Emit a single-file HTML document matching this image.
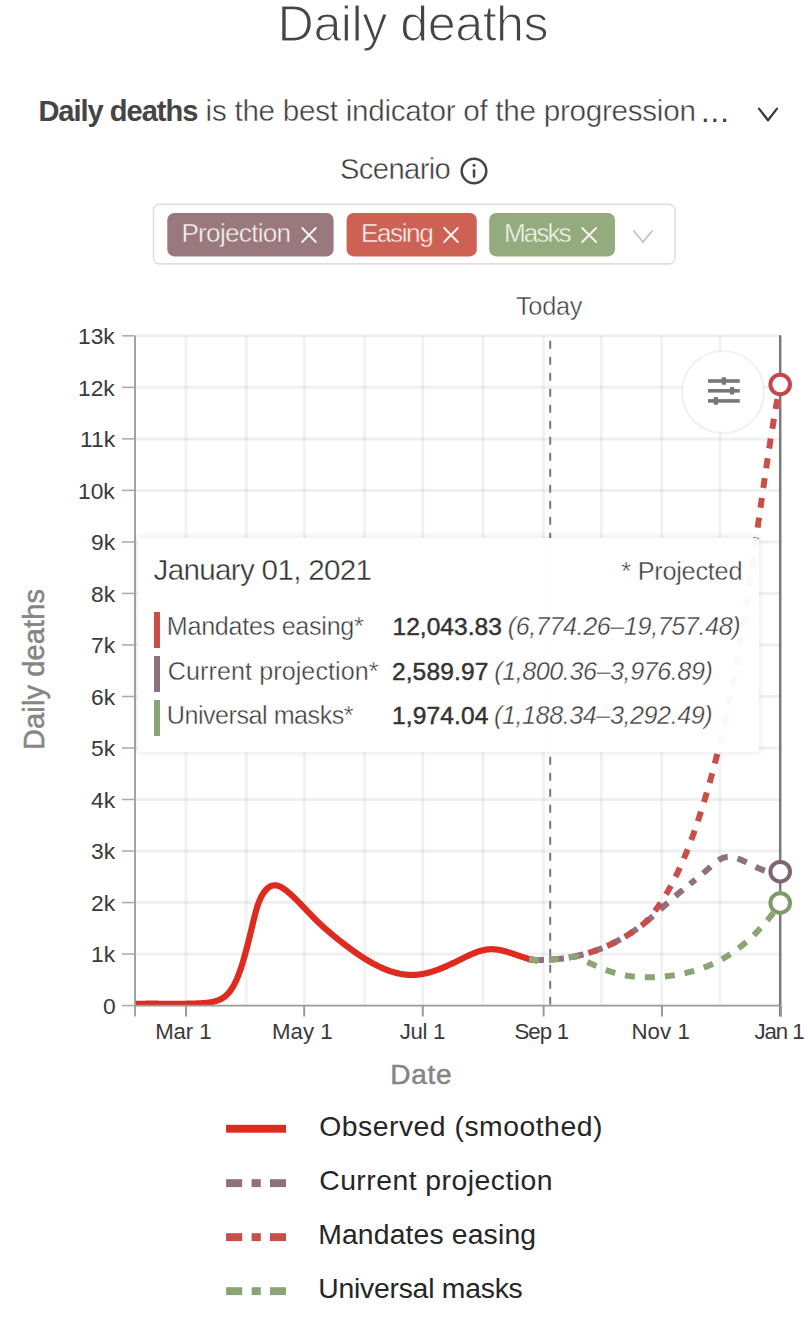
<!DOCTYPE html>
<html><head><meta charset="utf-8"><style>
html,body{margin:0;padding:0;background:#fff;}
body{width:808px;height:1322px;position:relative;overflow:hidden;font-family:"Liberation Sans",sans-serif;}
.t{position:absolute;white-space:pre;line-height:1;}
svg{position:absolute;left:0;top:0;}
</style></head><body>
<svg width="808" height="1322" viewBox="0 0 808 1322">
<polyline points="759,108.6 768,120.3 777,108.6" fill="none" stroke="#3c3c3c" stroke-width="2.3" stroke-linecap="round" stroke-linejoin="round"/>
<circle cx="474" cy="171" r="12.3" fill="none" stroke="#454545" stroke-width="2.5"/>
<rect x="472.8" y="169.3" width="2.5" height="8.5" rx="1" fill="#454545"/>
<circle cx="474.05" cy="165.2" r="1.5" fill="#454545"/>
<rect x="153.5" y="205.4" width="521.5" height="59.5" rx="6" fill="rgba(0,0,0,0.06)"/>
<rect x="153.5" y="204.2" width="521.5" height="59.5" rx="6" fill="#fff" stroke="#dedede" stroke-width="1.5"/>
<rect x="167.3" y="213" width="166.3" height="43.4" rx="7" fill="#9a797e"/>
<rect x="346.6" y="213" width="130.2" height="43.4" rx="7" fill="#cd6254"/>
<rect x="489.2" y="213" width="125.8" height="43.4" rx="7" fill="#94ab7d"/>
<path d="M302.2,228 L315.8,242 M315.8,228 L302.2,242" stroke="#fdf8f4" stroke-width="1.8" stroke-linecap="round" fill="none"/>
<path d="M444.2,228 L457.8,242 M457.8,228 L444.2,242" stroke="#fdf8f4" stroke-width="1.8" stroke-linecap="round" fill="none"/>
<path d="M582.2,228 L596.0999999999999,242 M596.0999999999999,228 L582.2,242" stroke="#fdf8f4" stroke-width="1.8" stroke-linecap="round" fill="none"/>
<polyline points="633.5,230.5 643,242 652.5,230.5" fill="none" stroke="#c4c4c4" stroke-width="1.8"/>
<line x1="135" y1="954.08" x2="780.2" y2="954.08" stroke="rgba(0,0,0,0.06)" stroke-width="3"/>
<line x1="135" y1="902.56" x2="780.2" y2="902.56" stroke="rgba(0,0,0,0.06)" stroke-width="3"/>
<line x1="135" y1="851.04" x2="780.2" y2="851.04" stroke="rgba(0,0,0,0.06)" stroke-width="3"/>
<line x1="135" y1="799.52" x2="780.2" y2="799.52" stroke="rgba(0,0,0,0.06)" stroke-width="3"/>
<line x1="135" y1="748.00" x2="780.2" y2="748.00" stroke="rgba(0,0,0,0.06)" stroke-width="3"/>
<line x1="135" y1="696.48" x2="780.2" y2="696.48" stroke="rgba(0,0,0,0.06)" stroke-width="3"/>
<line x1="135" y1="644.96" x2="780.2" y2="644.96" stroke="rgba(0,0,0,0.06)" stroke-width="3"/>
<line x1="135" y1="593.44" x2="780.2" y2="593.44" stroke="rgba(0,0,0,0.06)" stroke-width="3"/>
<line x1="135" y1="541.92" x2="780.2" y2="541.92" stroke="rgba(0,0,0,0.06)" stroke-width="3"/>
<line x1="135" y1="490.40" x2="780.2" y2="490.40" stroke="rgba(0,0,0,0.06)" stroke-width="3"/>
<line x1="135" y1="438.88" x2="780.2" y2="438.88" stroke="rgba(0,0,0,0.06)" stroke-width="3"/>
<line x1="135" y1="387.36" x2="780.2" y2="387.36" stroke="rgba(0,0,0,0.06)" stroke-width="3"/>
<line x1="135" y1="335.84" x2="780.2" y2="335.84" stroke="rgba(0,0,0,0.06)" stroke-width="3"/>
<line x1="186" y1="335.84" x2="186" y2="1005.60" stroke="rgba(0,0,0,0.05)" stroke-width="3"/>
<line x1="246.2" y1="335.84" x2="246.2" y2="1005.60" stroke="rgba(0,0,0,0.05)" stroke-width="3"/>
<line x1="304.4" y1="335.84" x2="304.4" y2="1005.60" stroke="rgba(0,0,0,0.05)" stroke-width="3"/>
<line x1="364.6" y1="335.84" x2="364.6" y2="1005.60" stroke="rgba(0,0,0,0.05)" stroke-width="3"/>
<line x1="422.8" y1="335.84" x2="422.8" y2="1005.60" stroke="rgba(0,0,0,0.05)" stroke-width="3"/>
<line x1="483" y1="335.84" x2="483" y2="1005.60" stroke="rgba(0,0,0,0.05)" stroke-width="3"/>
<line x1="543.4" y1="335.84" x2="543.4" y2="1005.60" stroke="rgba(0,0,0,0.05)" stroke-width="3"/>
<line x1="601.4" y1="335.84" x2="601.4" y2="1005.60" stroke="rgba(0,0,0,0.05)" stroke-width="3"/>
<line x1="661.6" y1="335.84" x2="661.6" y2="1005.60" stroke="rgba(0,0,0,0.05)" stroke-width="3"/>
<line x1="719.9" y1="335.84" x2="719.9" y2="1005.60" stroke="rgba(0,0,0,0.05)" stroke-width="3"/>
<line x1="780.2" y1="335.34" x2="780.2" y2="1016.5" stroke="#7a7a7a" stroke-width="2.5"/>
<clipPath id="plot"><rect x="135" y="331.84" width="651.20" height="673.76"/></clipPath>
<path clip-path="url(#plot)" d="M135.00,1003.91 L136.00,1003.89 L137.00,1003.86 L138.00,1003.84 L139.00,1003.82 L140.00,1003.80 L141.00,1003.78 L142.00,1003.77 L143.00,1003.75 L144.00,1003.74 L145.00,1003.73 L146.00,1003.72 L147.00,1003.72 L148.00,1003.71 L149.00,1003.71 L150.00,1003.71 L151.00,1003.70 L152.00,1003.70 L153.00,1003.70 L154.00,1003.71 L155.00,1003.71 L156.00,1003.71 L157.00,1003.72 L158.00,1003.72 L159.00,1003.73 L160.00,1003.73 L161.00,1003.74 L162.00,1003.74 L163.00,1003.75 L164.00,1003.75 L165.00,1003.76 L166.00,1003.77 L167.00,1003.77 L168.00,1003.78 L169.00,1003.78 L170.00,1003.79 L171.00,1003.79 L172.00,1003.80 L173.00,1003.80 L174.00,1003.80 L175.00,1003.80 L176.00,1003.80 L177.00,1003.80 L178.00,1003.80 L179.00,1003.80 L180.00,1003.79 L181.00,1003.79 L182.00,1003.78 L183.00,1003.77 L184.00,1003.76 L185.00,1003.75 L186.00,1003.74 L187.00,1003.72 L188.00,1003.70 L189.00,1003.68 L190.00,1003.66 L191.00,1003.64 L192.00,1003.61 L193.00,1003.58 L194.00,1003.55 L195.00,1003.52 L196.00,1003.48 L197.00,1003.44 L198.00,1003.40 L199.00,1003.36 L200.00,1003.31 L201.00,1003.26 L202.00,1003.20 L203.00,1003.14 L204.00,1003.07 L205.00,1002.99 L206.00,1002.90 L207.00,1002.80 L208.00,1002.68 L209.00,1002.55 L210.00,1002.39 L211.00,1002.22 L212.00,1002.03 L213.00,1001.81 L214.00,1001.57 L215.00,1001.30 L216.00,1001.01 L217.00,1000.68 L218.00,1000.33 L219.00,999.94 L220.00,999.50 L221.00,999.02 L222.00,998.47 L223.00,997.86 L224.00,997.18 L225.00,996.43 L226.00,995.58 L227.00,994.65 L228.00,993.61 L229.00,992.47 L230.00,991.22 L231.00,989.84 L232.00,988.34 L233.00,986.70 L234.00,984.93 L235.00,983.00 L236.00,980.92 L237.00,978.67 L238.00,976.26 L239.00,973.67 L240.00,970.90 L241.00,967.95 L242.00,964.83 L243.00,961.55 L244.00,958.12 L245.00,954.57 L246.00,950.89 L247.00,947.10 L248.00,943.22 L249.00,939.25 L250.00,935.20 L251.00,931.10 L252.00,926.94 L253.00,922.77 L254.00,918.65 L255.00,914.68 L256.00,910.94 L257.00,907.51 L258.00,904.46 L259.00,901.78 L260.00,899.42 L261.00,897.33 L262.00,895.47 L263.00,893.80 L264.00,892.30 L265.00,890.96 L266.00,889.78 L267.00,888.75 L268.00,887.87 L269.00,887.13 L270.00,886.52 L271.00,886.04 L272.00,885.69 L273.00,885.45 L274.00,885.32 L275.00,885.30 L276.00,885.38 L277.00,885.55 L278.00,885.81 L279.00,886.16 L280.00,886.58 L281.00,887.07 L282.00,887.63 L283.00,888.24 L284.00,888.91 L285.00,889.63 L286.00,890.39 L287.00,891.19 L288.00,892.02 L289.00,892.88 L290.00,893.75 L291.00,894.65 L292.00,895.57 L293.00,896.51 L294.00,897.46 L295.00,898.43 L296.00,899.41 L297.00,900.41 L298.00,901.42 L299.00,902.43 L300.00,903.46 L301.00,904.50 L302.00,905.54 L303.00,906.58 L304.00,907.63 L305.00,908.68 L306.00,909.73 L307.00,910.78 L308.00,911.83 L309.00,912.88 L310.00,913.92 L311.00,914.96 L312.00,915.98 L313.00,917.00 L314.00,918.01 L315.00,919.01 L316.00,919.99 L317.00,920.97 L318.00,921.93 L319.00,922.88 L320.00,923.83 L321.00,924.76 L322.00,925.68 L323.00,926.59 L324.00,927.49 L325.00,928.39 L326.00,929.27 L327.00,930.15 L328.00,931.02 L329.00,931.88 L330.00,932.73 L331.00,933.58 L332.00,934.41 L333.00,935.25 L334.00,936.07 L335.00,936.89 L336.00,937.70 L337.00,938.51 L338.00,939.31 L339.00,940.11 L340.00,940.90 L341.00,941.69 L342.00,942.48 L343.00,943.26 L344.00,944.03 L345.00,944.80 L346.00,945.56 L347.00,946.32 L348.00,947.07 L349.00,947.82 L350.00,948.56 L351.00,949.29 L352.00,950.02 L353.00,950.74 L354.00,951.46 L355.00,952.16 L356.00,952.86 L357.00,953.56 L358.00,954.24 L359.00,954.92 L360.00,955.59 L361.00,956.25 L362.00,956.90 L363.00,957.55 L364.00,958.18 L365.00,958.81 L366.00,959.43 L367.00,960.03 L368.00,960.63 L369.00,961.22 L370.00,961.80 L371.00,962.37 L372.00,962.94 L373.00,963.48 L374.00,964.02 L375.00,964.55 L376.00,965.07 L377.00,965.58 L378.00,966.07 L379.00,966.56 L380.00,967.03 L381.00,967.49 L382.00,967.94 L383.00,968.38 L384.00,968.80 L385.00,969.22 L386.00,969.62 L387.00,970.00 L388.00,970.38 L389.00,970.74 L390.00,971.09 L391.00,971.42 L392.00,971.74 L393.00,972.05 L394.00,972.34 L395.00,972.62 L396.00,972.88 L397.00,973.13 L398.00,973.36 L399.00,973.58 L400.00,973.78 L401.00,973.97 L402.00,974.15 L403.00,974.30 L404.00,974.44 L405.00,974.57 L406.00,974.68 L407.00,974.77 L408.00,974.85 L409.00,974.90 L410.00,974.95 L411.00,974.97 L412.00,974.98 L413.00,974.97 L414.00,974.94 L415.00,974.89 L416.00,974.83 L417.00,974.75 L418.00,974.65 L419.00,974.53 L420.00,974.40 L421.00,974.25 L422.00,974.09 L423.00,973.91 L424.00,973.71 L425.00,973.50 L426.00,973.28 L427.00,973.04 L428.00,972.79 L429.00,972.53 L430.00,972.25 L431.00,971.96 L432.00,971.65 L433.00,971.34 L434.00,971.01 L435.00,970.68 L436.00,970.33 L437.00,969.97 L438.00,969.60 L439.00,969.23 L440.00,968.84 L441.00,968.44 L442.00,968.04 L443.00,967.63 L444.00,967.21 L445.00,966.78 L446.00,966.35 L447.00,965.90 L448.00,965.46 L449.00,965.00 L450.00,964.54 L451.00,964.08 L452.00,963.61 L453.00,963.14 L454.00,962.66 L455.00,962.18 L456.00,961.69 L457.00,961.21 L458.00,960.72 L459.00,960.22 L460.00,959.73 L461.00,959.23 L462.00,958.74 L463.00,958.24 L464.00,957.75 L465.00,957.26 L466.00,956.78 L467.00,956.30 L468.00,955.83 L469.00,955.36 L470.00,954.90 L471.00,954.46 L472.00,954.02 L473.00,953.60 L474.00,953.18 L475.00,952.79 L476.00,952.40 L477.00,952.04 L478.00,951.69 L479.00,951.36 L480.00,951.05 L481.00,950.76 L482.00,950.49 L483.00,950.24 L484.00,950.02 L485.00,949.82 L486.00,949.65 L487.00,949.50 L488.00,949.38 L489.00,949.29 L490.00,949.24 L491.00,949.21 L492.00,949.21 L493.00,949.23 L494.00,949.28 L495.00,949.36 L496.00,949.46 L497.00,949.59 L498.00,949.73 L499.00,949.90 L500.00,950.08 L501.00,950.28 L502.00,950.51 L503.00,950.74 L504.00,950.99 L505.00,951.26 L506.00,951.54 L507.00,951.83 L508.00,952.13 L509.00,952.44 L510.00,952.75 L511.00,953.08 L512.00,953.41 L513.00,953.75 L514.00,954.09 L515.00,954.43 L516.00,954.77 L517.00,955.12 L518.00,955.46 L519.00,955.81 L520.00,956.15 L521.00,956.48 L522.00,956.82 L523.00,957.14 L524.00,957.46 L525.00,957.77 L526.00,958.07 L527.00,958.36 L528.00,958.64 L529.00,958.91 L530.00,959.16 L531.00,959.40 L532.00,959.62 L533.00,959.83 L534.00,960.01 L535.00,960.18 L536.00,960.33 L537.00,960.46 L538.00,960.56" fill="none" stroke="#de2a1f" stroke-width="6.2" stroke-linecap="butt" stroke-linejoin="round"/>
<path d="M529.00,959.68 L530.00,959.73 L531.00,959.77 L532.00,959.81 L533.00,959.84 L534.00,959.87 L535.00,959.89 L536.00,959.91 L537.00,959.92 L538.00,959.93 L539.00,959.93 L540.00,959.93 L541.00,959.92 L542.00,959.91 L543.00,959.89 L544.00,959.87 L545.00,959.84 L546.00,959.81 L547.00,959.77 L548.00,959.73 L549.00,959.68 L550.00,959.63 L551.00,959.57 L552.00,959.50 L553.00,959.43 L554.00,959.36 L555.00,959.27 L556.00,959.19 L557.00,959.09 L558.00,958.99 L559.00,958.89 L560.00,958.78 L561.00,958.66 L562.00,958.54 L563.00,958.41 L564.00,958.27 L565.00,958.13 L566.00,957.99 L567.00,957.83 L568.00,957.67 L569.00,957.51 L570.00,957.34 L571.00,957.16 L572.00,956.97 L573.00,956.78 L574.00,956.58 L575.00,956.38 L576.00,956.16 L577.00,955.95 L578.00,955.72 L579.00,955.49 L580.00,955.25 L581.00,955.01 L582.00,954.75 L583.00,954.49 L584.00,954.23 L585.00,953.95 L586.00,953.67 L587.00,953.39 L588.00,953.09 L589.00,952.79 L590.00,952.48 L591.00,952.16 L592.00,951.84 L593.00,951.51 L594.00,951.17 L595.00,950.82 L596.00,950.47 L597.00,950.11 L598.00,949.74 L599.00,949.36 L600.00,948.97 L601.00,948.58 L602.00,948.18 L603.00,947.77 L604.00,947.35 L605.00,946.93 L606.00,946.50 L607.00,946.06 L608.00,945.61 L609.00,945.15 L610.00,944.69 L611.00,944.21 L612.00,943.73 L613.00,943.24 L614.00,942.74 L615.00,942.23 L616.00,941.72 L617.00,941.19 L618.00,940.66 L619.00,940.12 L620.00,939.57 L621.00,939.01 L622.00,938.44 L623.00,937.86 L624.00,937.27 L625.00,936.68 L626.00,936.07 L627.00,935.46 L628.00,934.83 L629.00,934.20 L630.00,933.56 L631.00,932.91 L632.00,932.24 L633.00,931.57 L634.00,930.89 L635.00,930.20 L636.00,929.50 L637.00,928.79 L638.00,928.06 L639.00,927.33 L640.00,926.59 L641.00,925.84 L642.00,925.08 L643.00,924.31 L644.00,923.52 L645.00,922.73 L646.00,921.93 L647.00,921.11 L648.00,920.29 L649.00,919.45 L650.00,918.61 L651.00,917.76 L652.00,916.90 L653.00,916.04 L654.00,915.17 L655.00,914.29 L656.00,913.41 L657.00,912.52 L658.00,911.63 L659.00,910.74 L660.00,909.84 L661.00,908.94 L662.00,908.04 L663.00,907.13 L664.00,906.23 L665.00,905.33 L666.00,904.42 L667.00,903.52 L668.00,902.62 L669.00,901.73 L670.00,900.83 L671.00,899.94 L672.00,899.05 L673.00,898.17 L674.00,897.30 L675.00,896.43 L676.00,895.56 L677.00,894.70 L678.00,893.85 L679.00,893.01 L680.00,892.17 L681.00,891.34 L682.00,890.52 L683.00,889.70 L684.00,888.88 L685.00,888.06 L686.00,887.25 L687.00,886.44 L688.00,885.63 L689.00,884.83 L690.00,884.02" fill="none" stroke="#8e7080" stroke-width="6" stroke-dasharray="10 10" stroke-dashoffset="15"/>
<path d="M690.00,884.02 L691.00,883.22 L692.00,882.41 L693.00,881.61 L694.00,880.80 L695.00,879.99 L696.00,879.18 L697.00,878.36 L698.00,877.54 L699.00,876.72 L700.00,875.89 L701.00,875.06 L702.00,874.22 L703.00,873.37 L704.00,872.52 L705.00,871.66 L706.00,870.79 L707.00,869.92 L708.00,869.03 L709.00,868.14 L710.00,867.24 L711.00,866.34 L712.00,865.45 L713.00,864.57 L714.00,863.71 L715.00,862.88 L716.00,862.08 L717.00,861.32 L718.00,860.61 L719.00,859.94 L720.00,859.34 L721.00,858.80 L722.00,858.33 L723.00,857.93 L724.00,857.60 L725.00,857.34 L726.00,857.14 L727.00,857.00 L728.00,856.92 L729.00,856.90 L730.00,856.93 L731.00,857.00 L732.00,857.13 L733.00,857.29 L734.00,857.50 L735.00,857.74 L736.00,858.02 L737.00,858.33 L738.00,858.67 L739.00,859.04 L740.00,859.43 L741.00,859.84 L742.00,860.27 L743.00,860.71 L744.00,861.16 L745.00,861.63 L746.00,862.11 L747.00,862.59 L748.00,863.08 L749.00,863.58 L750.00,864.08 L751.00,864.58 L752.00,865.08 L753.00,865.57 L754.00,866.07 L755.00,866.55 L756.00,867.03 L757.00,867.50 L758.00,867.96 L759.00,868.41 L760.00,868.84 L761.00,869.26 L762.00,869.66 L763.00,870.03 L764.00,870.39 L765.00,870.73 L766.00,871.04 L767.00,871.32 L768.00,871.57 L769.00,871.80 L770.00,871.99 L771.00,872.15 L772.00,872.28 L773.00,872.36 L774.00,872.41 L775.00,872.42 L776.00,872.39 L777.00,872.31 L778.00,872.19 L779.00,872.01 L780.00,871.79 L780.20,871.90" fill="none" stroke="#8e7080" stroke-width="6" stroke-dasharray="10 10" stroke-dashoffset="3.009"/>
<path d="M529.00,959.68 L530.00,959.73 L531.00,959.77 L532.00,959.81 L533.00,959.84 L534.00,959.87 L535.00,959.89 L536.00,959.91 L537.00,959.92 L538.00,959.93 L539.00,959.93 L540.00,959.93 L541.00,959.92 L542.00,959.91 L543.00,959.89 L544.00,959.87 L545.00,959.84 L546.00,959.81 L547.00,959.77 L548.00,959.73 L549.00,959.68 L550.00,959.63 L551.00,959.57 L552.00,959.50 L553.00,959.43 L554.00,959.36 L555.00,959.27 L556.00,959.19 L557.00,959.09 L558.00,958.99 L559.00,958.89 L560.00,958.78 L561.00,958.66 L562.00,958.54 L563.00,958.41 L564.00,958.27 L565.00,958.13 L566.00,957.99 L567.00,957.83 L568.00,957.67 L569.00,957.51 L570.00,957.34 L571.00,957.16 L572.00,956.97 L573.00,956.78 L574.00,956.58 L575.00,956.38 L576.00,956.16 L577.00,955.95 L578.00,955.72 L579.00,955.49 L580.00,955.25 L581.00,955.01 L582.00,954.75 L583.00,954.49 L584.00,954.23 L585.00,953.95 L586.00,953.67 L587.00,953.39 L588.00,953.09 L589.00,952.79 L590.00,952.48 L591.00,952.16 L592.00,951.84 L593.00,951.51 L594.00,951.17 L595.00,950.82 L596.00,950.47 L597.00,950.11 L598.00,949.74 L599.00,949.36 L600.00,948.97 L601.00,948.58 L602.00,948.18 L603.00,947.77 L604.00,947.35 L605.00,946.93 L606.00,946.50 L607.00,946.06 L608.00,945.61 L609.00,945.15 L610.00,944.69 L611.00,944.21 L612.00,943.73 L613.00,943.24 L614.00,942.74 L615.00,942.23 L616.00,941.72 L617.00,941.19 L618.00,940.66 L619.00,940.12 L620.00,939.57 L621.00,939.01 L622.00,938.44 L623.00,937.86 L624.00,937.27 L625.00,936.68 L626.00,936.07 L627.00,935.46 L628.00,934.83 L629.00,934.20 L630.00,933.56 L631.00,932.91 L632.00,932.24 L633.00,931.57 L634.00,930.89 L635.00,930.20 L636.00,929.50 L637.00,928.79 L638.00,928.06 L639.00,927.33 L640.00,926.59 L641.00,925.85 L642.00,925.09 L643.00,924.30 L644.00,923.47 L645.00,922.57 L646.00,921.61 L647.00,920.56 L648.00,919.44 L649.00,918.26 L650.00,917.03 L651.00,915.77 L652.00,914.53 L653.00,913.30 L654.00,912.05 L655.00,910.76 L656.00,909.44 L657.00,908.09 L658.00,906.71 L659.00,905.29 L660.00,903.84 L661.00,902.36 L662.00,900.85 L663.00,899.30 L664.00,897.72 L665.00,896.11 L666.00,894.46 L667.00,892.77 L668.00,891.05 L669.00,889.29 L670.00,887.49 L671.00,885.66 L672.00,883.79 L673.00,881.89 L674.00,879.94 L675.00,877.96 L676.00,875.94 L677.00,873.88 L678.00,871.77 L679.00,869.63 L680.00,867.45 L681.00,865.23 L682.00,862.96 L683.00,860.66 L684.00,858.31 L685.00,855.92 L686.00,853.49 L687.00,851.01 L688.00,848.49 L689.00,845.92 L690.00,843.31 L691.00,840.66 L692.00,837.96 L693.00,835.22 L694.00,832.42 L695.00,829.59 L696.00,826.70 L697.00,823.77 L698.00,820.79 L699.00,817.77 L700.00,814.70 L701.00,811.58 L702.00,808.41 L703.00,805.20 L704.00,801.93 L705.00,798.62 L706.00,795.26 L707.00,791.86 L708.00,788.40 L709.00,784.89 L710.00,781.34 L711.00,777.73 L712.00,774.08 L713.00,770.37 L714.00,766.61 L715.00,762.79 L716.00,758.92 L717.00,754.98 L718.00,750.99 L719.00,746.93 L720.00,742.81 L721.00,738.62 L722.00,734.37 L723.00,730.04 L724.00,725.65 L725.00,721.18 L726.00,716.64 L727.00,712.02 L728.00,707.32 L729.00,702.54 L730.00,697.68 L731.00,692.74 L732.00,687.71 L733.00,682.60 L734.00,677.39 L735.00,672.10 L736.00,666.71 L737.00,661.23 L738.00,655.66 L739.00,649.98 L740.00,644.21 L741.00,638.34 L742.00,632.36 L743.00,626.28 L744.00,620.10 L745.00,613.80 L746.00,607.40 L747.00,600.90 L748.00,594.30 L749.00,587.63 L750.00,580.87 L751.00,574.05 L752.00,567.17 L753.00,560.24 L754.00,553.27 L755.00,546.27 L756.00,539.24 L757.00,532.20 L758.00,525.15 L759.00,518.10 L760.00,511.07 L761.00,504.05 L762.00,497.06 L763.00,490.10 L764.00,483.19 L765.00,476.33 L766.00,469.53 L767.00,462.81 L768.00,456.16 L769.00,449.60 L770.00,443.13 L771.00,436.77 L772.00,430.53 L773.00,424.40 L774.00,418.40 L775.00,412.55 L776.00,406.84 L777.00,401.28 L778.00,395.89 L779.00,390.67 L780.00,385.63 L780.20,384.50" fill="none" stroke="#c94e48" stroke-width="6" stroke-dasharray="10 10"/>
<path d="M529.00,959.68 L530.00,959.73 L531.00,959.77 L532.00,959.81 L533.00,959.84 L534.00,959.87 L535.00,959.89 L536.00,959.91 L537.00,959.92 L538.00,959.93 L539.00,959.93 L540.00,959.93 L541.00,959.92 L542.00,959.91 L543.00,959.89 L544.00,959.87 L545.00,959.84 L546.00,959.81 L547.00,959.77 L548.00,959.73 L549.00,959.68 L550.00,959.63 L551.00,959.57 L552.00,959.50 L553.00,959.43 L554.00,959.36 L555.00,959.27 L556.00,959.19 L557.00,959.09 L558.00,958.99 L559.00,958.89 L560.00,958.78 L561.00,958.66 L562.00,958.54 L563.00,958.41 L564.00,958.27 L565.00,958.13 L566.00,957.99 L567.00,957.83 L568.00,957.67 L569.00,957.51 L570.00,957.34 L571.00,957.16 L572.00,956.97 L573.00,956.78 L574.00,956.58 L575.00,956.43 L576.00,956.44 L577.00,956.66 L578.00,957.10 L579.00,957.74 L580.00,958.50 L581.00,959.26 L582.00,959.82 L583.00,960.20 L584.00,960.60 L585.00,961.01 L586.00,961.44 L587.00,961.87 L588.00,962.31 L589.00,962.75 L590.00,963.20 L591.00,963.64 L592.00,964.09 L593.00,964.54 L594.00,964.98 L595.00,965.42 L596.00,965.86 L597.00,966.30 L598.00,966.74 L599.00,967.16 L600.00,967.59 L601.00,968.01 L602.00,968.42 L603.00,968.83 L604.00,969.22 L605.00,969.61 L606.00,970.00 L607.00,970.37 L608.00,970.73 L609.00,971.09 L610.00,971.43 L611.00,971.76 L612.00,972.08 L613.00,972.39 L614.00,972.69 L615.00,972.98 L616.00,973.26 L617.00,973.53 L618.00,973.79 L619.00,974.04 L620.00,974.27 L621.00,974.50 L622.00,974.72 L623.00,974.93 L624.00,975.13 L625.00,975.32 L626.00,975.50 L627.00,975.68 L628.00,975.84 L629.00,975.99 L630.00,976.14 L631.00,976.27 L632.00,976.40 L633.00,976.52 L634.00,976.63 L635.00,976.73 L636.00,976.83 L637.00,976.91 L638.00,976.99 L639.00,977.06 L640.00,977.12 L641.00,977.17 L642.00,977.22 L643.00,977.26 L644.00,977.29 L645.00,977.31 L646.00,977.33 L647.00,977.34 L648.00,977.34 L649.00,977.33 L650.00,977.32 L651.00,977.30 L652.00,977.28 L653.00,977.24 L654.00,977.20 L655.00,977.16 L656.00,977.11 L657.00,977.05 L658.00,976.98 L659.00,976.91 L660.00,976.84 L661.00,976.76 L662.00,976.67 L663.00,976.58 L664.00,976.48 L665.00,976.37 L666.00,976.26 L667.00,976.15 L668.00,976.03 L669.00,975.90 L670.00,975.77 L671.00,975.64 L672.00,975.50 L673.00,975.35 L674.00,975.20 L675.00,975.04 L676.00,974.88 L677.00,974.71 L678.00,974.54 L679.00,974.36 L680.00,974.17 L681.00,973.98 L682.00,973.78 L683.00,973.58 L684.00,973.36 L685.00,973.14 L686.00,972.92 L687.00,972.68 L688.00,972.44 L689.00,972.20 L690.00,971.94 L691.00,971.68 L692.00,971.41 L693.00,971.13 L694.00,970.85 L695.00,970.55 L696.00,970.25 L697.00,969.94 L698.00,969.62 L699.00,969.30 L700.00,968.96 L701.00,968.62 L702.00,968.27 L703.00,967.90 L704.00,967.53 L705.00,967.15 L706.00,966.76 L707.00,966.37 L708.00,965.96 L709.00,965.54 L710.00,965.11 L711.00,964.68 L712.00,964.23 L713.00,963.77 L714.00,963.30 L715.00,962.83 L716.00,962.34 L717.00,961.84 L718.00,961.33 L719.00,960.81 L720.00,960.28 L721.00,959.73 L722.00,959.18 L723.00,958.62 L724.00,958.04 L725.00,957.45 L726.00,956.85 L727.00,956.24 L728.00,955.62 L729.00,954.98 L730.00,954.33 L731.00,953.67 L732.00,953.00 L733.00,952.32 L734.00,951.62 L735.00,950.91 L736.00,950.19 L737.00,949.45 L738.00,948.70 L739.00,947.94 L740.00,947.16 L741.00,946.38 L742.00,945.57 L743.00,944.76 L744.00,943.93 L745.00,943.08 L746.00,942.23 L747.00,941.35 L748.00,940.47 L749.00,939.57 L750.00,938.65 L751.00,937.72 L752.00,936.78 L753.00,935.82 L754.00,934.84 L755.00,933.85 L756.00,932.85 L757.00,931.83 L758.00,930.79 L759.00,929.74 L760.00,928.67 L761.00,927.59 L762.00,926.49 L763.00,925.38 L764.00,924.25 L765.00,923.10 L766.00,921.93 L767.00,920.75 L768.00,919.56 L769.00,918.34 L770.00,917.11 L771.00,915.86 L772.00,914.60 L773.00,913.32 L774.00,912.02 L775.00,910.70 L776.00,909.37 L777.00,908.01 L778.00,906.64 L779.00,905.25 L780.00,903.85 L780.20,903.10" fill="none" stroke="#8ba476" stroke-width="6" stroke-dasharray="10 10"/>
<line x1="550.2" y1="340.64" x2="550.2" y2="1005.60" stroke="#7a7a7a" stroke-width="2" stroke-dasharray="8 8"/>
<line x1="135" y1="335.84" x2="135" y2="1016.5" stroke="#9a9a9a" stroke-width="1.8"/>
<line x1="135" y1="1005.60" x2="781" y2="1005.60" stroke="#9a9a9a" stroke-width="1.8"/>
<line x1="122" y1="1005.60" x2="135" y2="1005.60" stroke="#a8a8a8" stroke-width="1.5"/>
<line x1="122" y1="954.08" x2="135" y2="954.08" stroke="#a8a8a8" stroke-width="1.5"/>
<line x1="122" y1="902.56" x2="135" y2="902.56" stroke="#a8a8a8" stroke-width="1.5"/>
<line x1="122" y1="851.04" x2="135" y2="851.04" stroke="#a8a8a8" stroke-width="1.5"/>
<line x1="122" y1="799.52" x2="135" y2="799.52" stroke="#a8a8a8" stroke-width="1.5"/>
<line x1="122" y1="748.00" x2="135" y2="748.00" stroke="#a8a8a8" stroke-width="1.5"/>
<line x1="122" y1="696.48" x2="135" y2="696.48" stroke="#a8a8a8" stroke-width="1.5"/>
<line x1="122" y1="644.96" x2="135" y2="644.96" stroke="#a8a8a8" stroke-width="1.5"/>
<line x1="122" y1="593.44" x2="135" y2="593.44" stroke="#a8a8a8" stroke-width="1.5"/>
<line x1="122" y1="541.92" x2="135" y2="541.92" stroke="#a8a8a8" stroke-width="1.5"/>
<line x1="122" y1="490.40" x2="135" y2="490.40" stroke="#a8a8a8" stroke-width="1.5"/>
<line x1="122" y1="438.88" x2="135" y2="438.88" stroke="#a8a8a8" stroke-width="1.5"/>
<line x1="122" y1="387.36" x2="135" y2="387.36" stroke="#a8a8a8" stroke-width="1.5"/>
<line x1="122" y1="335.84" x2="135" y2="335.84" stroke="#a8a8a8" stroke-width="1.5"/>
<line x1="186" y1="1005.60" x2="186" y2="1016.5" stroke="#9a9a9a" stroke-width="2"/>
<line x1="304.2" y1="1005.60" x2="304.2" y2="1016.5" stroke="#9a9a9a" stroke-width="2"/>
<line x1="422.8" y1="1005.60" x2="422.8" y2="1016.5" stroke="#9a9a9a" stroke-width="2"/>
<line x1="543.6" y1="1005.60" x2="543.6" y2="1016.5" stroke="#9a9a9a" stroke-width="2"/>
<line x1="662" y1="1005.60" x2="662" y2="1016.5" stroke="#9a9a9a" stroke-width="2"/>
<line x1="781" y1="1005.60" x2="781" y2="1016.5" stroke="#9a9a9a" stroke-width="2"/>
<circle cx="780.2" cy="384.5" r="9.8" fill="#fff" stroke="#c4454c" stroke-width="4"/>
<circle cx="780.2" cy="871.7" r="9.8" fill="#fff" stroke="#806474" stroke-width="4"/>
<circle cx="780.2" cy="903.0" r="9.8" fill="#fff" stroke="#7c9b68" stroke-width="4"/>
<circle cx="723" cy="392" r="41" fill="#fff" stroke="rgba(0,0,0,0.055)" stroke-width="2.2"/>
<rect x="708" y="379.20" width="31.8" height="3.6" fill="#777"/>
<rect x="721.60" y="377.20" width="4.4" height="7.6" rx="0.8" fill="#777"/>
<rect x="708" y="389.00" width="31.8" height="3.6" fill="#777"/>
<rect x="729.90" y="387.00" width="4.4" height="7.6" rx="0.8" fill="#777"/>
<rect x="708" y="399.10" width="31.8" height="3.6" fill="#777"/>
<rect x="713.70" y="397.10" width="4.4" height="7.6" rx="0.8" fill="#777"/>
<rect x="226.1" y="1124.8" width="59.9" height="7.9" fill="#de2a1f"/>
<rect x="226.1" y="1179.2" width="16.1" height="7.9" fill="#8e7080"/>
<rect x="251.6" y="1179.2" width="9.2" height="7.9" fill="#8e7080"/>
<rect x="270" y="1179.2" width="16.0" height="7.9" fill="#8e7080"/>
<rect x="226.1" y="1233.2" width="16.1" height="7.9" fill="#c94e48"/>
<rect x="251.6" y="1233.2" width="9.2" height="7.9" fill="#c94e48"/>
<rect x="270" y="1233.2" width="16.0" height="7.9" fill="#c94e48"/>
<rect x="226.1" y="1287.2" width="16.1" height="7.9" fill="#8ba476"/>
<rect x="251.6" y="1287.2" width="9.2" height="7.9" fill="#8ba476"/>
<rect x="270" y="1287.2" width="16.0" height="7.9" fill="#8ba476"/>
</svg>
<div style="position:absolute;left:137.8px;top:537.5px;width:620.8px;height:214px;background:rgba(255,255,255,0.96);border-radius:3px;box-shadow:0 0 9px rgba(0,0,0,0.11)"></div>
<div style="position:absolute;left:154px;top:612.10px;width:5.8px;height:35.7px;background:#c94e48"></div><div style="position:absolute;left:154px;top:656.20px;width:5.8px;height:35.7px;background:#8e7080"></div><div style="position:absolute;left:154px;top:700.30px;width:5.8px;height:35.7px;background:#8ba476"></div>
<div class="t" style="left:277.60px;top:-1.00px;font-size:50.29px;letter-spacing:-0.509px;font-weight:normal;font-style:normal;color:#454545;-webkit-text-stroke:1.2px #fff;">Daily deaths</div>
<div class="t" style="left:38.40px;top:97.00px;font-size:29.07px;letter-spacing:-1.018px;font-weight:bold;font-style:normal;color:#454545;;">Daily deaths</div>
<div class="t" style="left:205.60px;top:96.00px;font-size:29.65px;letter-spacing:-0.272px;font-weight:normal;font-style:normal;color:#3c3c3c;-webkit-text-stroke:0.45px #fff;">is the best indicator of the progression</div>
<div class="t" style="left:701.00px;top:96.00px;font-size:31.00px;letter-spacing:1.000px;font-weight:normal;font-style:normal;color:#404040;;">...</div>
<div class="t" style="left:340.00px;top:155.00px;font-size:29.22px;letter-spacing:-0.643px;font-weight:normal;font-style:normal;color:#3c3c3c;-webkit-text-stroke:0.45px #fff;">Scenario</div>
<div class="t" style="left:181.40px;top:220.00px;font-size:26.16px;letter-spacing:-0.733px;font-weight:normal;font-style:normal;color:#fdf8f4;;-webkit-text-stroke:0.5px #9a797e">Projection</div>
<div class="t" style="left:361.00px;top:220.00px;font-size:26.16px;letter-spacing:-1.440px;font-weight:normal;font-style:normal;color:#fdf8f4;;-webkit-text-stroke:0.5px #cd6254">Easing</div>
<div class="t" style="left:504.00px;top:220.00px;font-size:26.16px;letter-spacing:-2.000px;font-weight:normal;font-style:normal;color:#f6fbef;;-webkit-text-stroke:0.5px #94ab7d">Masks</div>
<div class="t" style="left:516.00px;top:294.00px;font-size:25.29px;letter-spacing:-0.275px;font-weight:normal;font-style:normal;color:#3c3c3c;-webkit-text-stroke:0.45px #fff;">Today</div>
<div class="t" style="left:103.00px;top:995.00px;font-size:22.82px;letter-spacing:0.000px;font-weight:normal;font-style:normal;color:#3a3a3a;;">0</div>
<div class="t" style="left:91.00px;top:943.00px;font-size:22.82px;letter-spacing:0.000px;font-weight:normal;font-style:normal;color:#3a3a3a;;">1k</div>
<div class="t" style="left:91.00px;top:892.00px;font-size:22.82px;letter-spacing:0.000px;font-weight:normal;font-style:normal;color:#3a3a3a;;">2k</div>
<div class="t" style="left:91.00px;top:840.00px;font-size:22.82px;letter-spacing:0.000px;font-weight:normal;font-style:normal;color:#3a3a3a;;">3k</div>
<div class="t" style="left:91.00px;top:789.00px;font-size:22.82px;letter-spacing:0.000px;font-weight:normal;font-style:normal;color:#3a3a3a;;">4k</div>
<div class="t" style="left:91.00px;top:737.00px;font-size:22.82px;letter-spacing:0.000px;font-weight:normal;font-style:normal;color:#3a3a3a;;">5k</div>
<div class="t" style="left:91.00px;top:686.00px;font-size:22.82px;letter-spacing:0.000px;font-weight:normal;font-style:normal;color:#3a3a3a;;">6k</div>
<div class="t" style="left:91.00px;top:634.00px;font-size:22.82px;letter-spacing:0.000px;font-weight:normal;font-style:normal;color:#3a3a3a;;">7k</div>
<div class="t" style="left:91.00px;top:583.00px;font-size:22.82px;letter-spacing:0.000px;font-weight:normal;font-style:normal;color:#3a3a3a;;">8k</div>
<div class="t" style="left:91.00px;top:531.00px;font-size:22.82px;letter-spacing:0.000px;font-weight:normal;font-style:normal;color:#3a3a3a;;">9k</div>
<div class="t" style="left:78.00px;top:480.00px;font-size:22.82px;letter-spacing:0.000px;font-weight:normal;font-style:normal;color:#3a3a3a;;">10k</div>
<div class="t" style="left:80.00px;top:428.00px;font-size:22.82px;letter-spacing:0.000px;font-weight:normal;font-style:normal;color:#3a3a3a;;">11k</div>
<div class="t" style="left:78.00px;top:377.00px;font-size:22.82px;letter-spacing:0.000px;font-weight:normal;font-style:normal;color:#3a3a3a;;">12k</div>
<div class="t" style="left:78.00px;top:325.00px;font-size:22.82px;letter-spacing:0.000px;font-weight:normal;font-style:normal;color:#3a3a3a;;">13k</div>
<div class="t" style="left:155.20px;top:1021.00px;font-size:22.24px;letter-spacing:-0.125px;font-weight:normal;font-style:normal;color:#3a3a3a;;">Mar 1</div>
<div class="t" style="left:272.00px;top:1021.00px;font-size:22.24px;letter-spacing:0.000px;font-weight:normal;font-style:normal;color:#3a3a3a;;">May 1</div>
<div class="t" style="left:399.80px;top:1021.00px;font-size:22.24px;letter-spacing:-0.375px;font-weight:normal;font-style:normal;color:#3a3a3a;;">Jul 1</div>
<div class="t" style="left:514.40px;top:1021.00px;font-size:22.24px;letter-spacing:-0.875px;font-weight:normal;font-style:normal;color:#3a3a3a;;">Sep 1</div>
<div class="t" style="left:631.40px;top:1021.00px;font-size:22.24px;letter-spacing:0.075px;font-weight:normal;font-style:normal;color:#3a3a3a;;">Nov 1</div>
<div class="t" style="left:754.50px;top:1021.00px;font-size:22.24px;letter-spacing:-1.075px;font-weight:normal;font-style:normal;color:#3a3a3a;;">Jan 1</div>
<div class="t" style="left:390.30px;top:1061.00px;font-size:28.05px;letter-spacing:0.667px;font-weight:normal;font-style:normal;color:#858585;-webkit-text-stroke:0.5px currentColor;">Date</div>
<div class="t" style="left:153.60px;top:555.00px;font-size:29.65px;letter-spacing:-0.707px;font-weight:normal;font-style:normal;color:#333333;-webkit-text-stroke:0.4px #fff;">January 01, 2021</div>
<div class="t" style="left:621.30px;top:559.00px;font-size:25.29px;letter-spacing:-0.250px;font-weight:normal;font-style:normal;color:#3a3a3a;-webkit-text-stroke:0.4px #fff;">* Projected</div>
<div class="t" style="left:166.80px;top:614.00px;font-size:25.15px;letter-spacing:-0.280px;font-weight:normal;font-style:normal;color:#3a3a3a;-webkit-text-stroke:0.4px #fff;">Mandates easing*</div>
<div class="t" style="left:392.50px;top:615.00px;font-size:24.56px;letter-spacing:0.013px;font-weight:normal;font-style:normal;color:#333333;-webkit-text-stroke:0.45px currentColor;">12,043.83</div>
<div class="t" style="left:507.70px;top:614.00px;font-size:25.15px;letter-spacing:-0.395px;font-weight:normal;font-style:italic;color:#3a3a3a;-webkit-text-stroke:0.4px #fff;">(6,774.26–19,757.48)</div>
<div class="t" style="left:167.80px;top:659.00px;font-size:25.15px;letter-spacing:0.067px;font-weight:normal;font-style:normal;color:#3a3a3a;-webkit-text-stroke:0.4px #fff;">Current projection*</div>
<div class="t" style="left:391.90px;top:660.00px;font-size:24.56px;letter-spacing:0.129px;font-weight:normal;font-style:normal;color:#333333;-webkit-text-stroke:0.45px currentColor;">2,589.97</div>
<div class="t" style="left:494.20px;top:659.00px;font-size:25.15px;letter-spacing:-0.433px;font-weight:normal;font-style:italic;color:#3a3a3a;-webkit-text-stroke:0.4px #fff;">(1,800.36–3,976.89)</div>
<div class="t" style="left:166.80px;top:703.00px;font-size:25.15px;letter-spacing:-0.493px;font-weight:normal;font-style:normal;color:#3a3a3a;-webkit-text-stroke:0.4px #fff;">Universal masks*</div>
<div class="t" style="left:392.00px;top:704.00px;font-size:24.56px;letter-spacing:0.114px;font-weight:normal;font-style:normal;color:#333333;-webkit-text-stroke:0.45px currentColor;">1,974.04</div>
<div class="t" style="left:494.00px;top:703.00px;font-size:25.15px;letter-spacing:-0.433px;font-weight:normal;font-style:italic;color:#3a3a3a;-webkit-text-stroke:0.4px #fff;">(1,188.34–3,292.49)</div>
<div class="t" style="left:319.20px;top:1112.00px;font-size:28.34px;letter-spacing:0.511px;font-weight:normal;font-style:normal;color:#262626;;">Observed (smoothed)</div>
<div class="t" style="left:319.20px;top:1166.00px;font-size:28.34px;letter-spacing:0.482px;font-weight:normal;font-style:normal;color:#262626;;">Current projection</div>
<div class="t" style="left:318.20px;top:1220.00px;font-size:28.34px;letter-spacing:0.150px;font-weight:normal;font-style:normal;color:#262626;;">Mandates easing</div>
<div class="t" style="left:318.20px;top:1274.00px;font-size:28.34px;letter-spacing:-0.229px;font-weight:normal;font-style:normal;color:#262626;;">Universal masks</div>
<div class="t" style="left:19.69px;top:750.30px;font-size:29.07px;letter-spacing:0.100px;font-weight:normal;color:#858585;-webkit-text-stroke:0.5px currentColor;transform-origin:0 0;transform:rotate(-90deg)">Daily deaths</div>
</body></html>
